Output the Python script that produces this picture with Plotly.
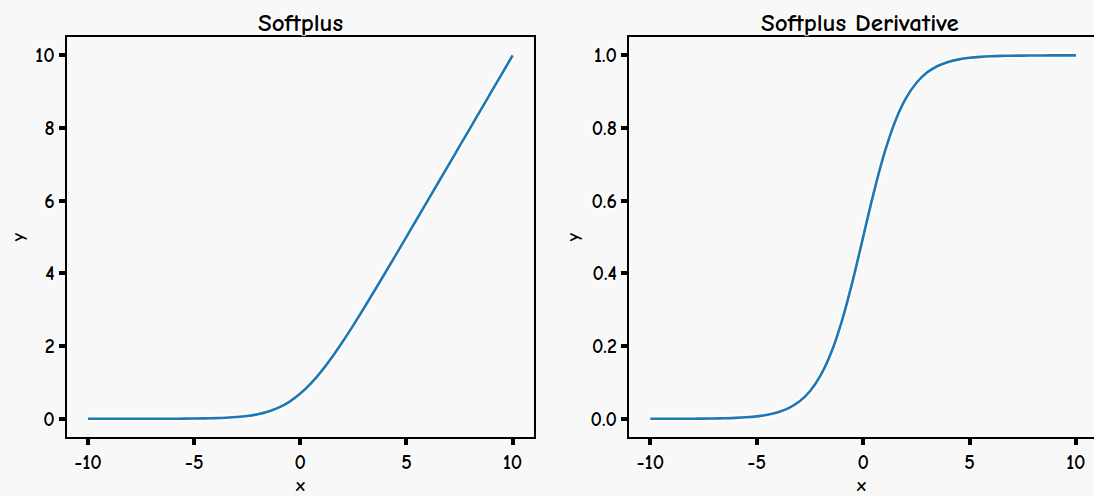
import plotly.graph_objects as go

x_vals = [-10, -9.5, -9, -8.5, -8, -7.5, -7, -6.5, -6, -5.5, -5, -4.5, -4, -3.5, -3, -2.5, -2, -1.5, -1, -0.5,
          0, 0.5, 1, 1.5, 2, 2.5, 3, 3.5, 4, 4.5, 5, 5.5, 6, 6.5, 7, 7.5, 8, 8.5, 9, 9.5, 10]
softplus_vals = [0.0000, 0.0001, 0.0001, 0.0002, 0.0003, 0.0006, 0.0009, 0.0015, 0.0025, 0.0041,
                 0.0067, 0.0110, 0.0180, 0.0298, 0.0486, 0.0789, 0.1269, 0.2014, 0.3133, 0.4741,
                 0.6931, 0.9741, 1.3133, 1.7014, 2.1269, 2.5789, 3.0486, 3.5298, 4.0181, 4.5110,
                 5.0067, 5.5041, 6.0025, 6.5015, 7.0009, 7.5006, 8.0003, 8.5002, 9.0001, 9.5001, 10.0000]
deriv_vals = [0.0000, 0.0001, 0.0001, 0.0002, 0.0003, 0.0006, 0.0009, 0.0015, 0.0025, 0.0041,
              0.0067, 0.0110, 0.0180, 0.0293, 0.0474, 0.0759, 0.1192, 0.1824, 0.2689, 0.3775,
              0.5000, 0.6225, 0.7311, 0.8176, 0.8808, 0.9241, 0.9526, 0.9707, 0.9820, 0.9890,
              0.9933, 0.9959, 0.9975, 0.9985, 0.9991, 0.9994, 0.9997, 0.9998, 0.9999, 0.9999, 1.0000]

titles = ["Softplus", "Softplus Derivative"]
x_ticks = [-10, -5, 0, 5, 10]
y_ticks_left = [0, 2, 4, 6, 8, 10]
y_ticks_right = [0.0, 0.2, 0.4, 0.6, 0.8, 1.0]

FONT = "Comic Sans MS, Comic Neue, Humor Sans, Lato, DejaVu Sans, sans-serif"
BG = "#f8f8f8"
LINE = "#1f77b4"

fig = go.Figure()
for ys, ax in [(softplus_vals, ""), (deriv_vals, "2")]:
    fig.add_trace(go.Scatter(x=x_vals, y=ys, mode="lines", line=dict(color="white", width=6, shape="spline"),
                             xaxis="x" + ax, yaxis="y" + ax, hoverinfo="skip", showlegend=False))
    fig.add_trace(go.Scatter(x=x_vals, y=ys, mode="lines", line=dict(color=LINE, width=2.6, shape="spline"),
                             xaxis="x" + ax, yaxis="y" + ax, showlegend=False))

def axis_common(mirror=True):
    return dict(showline=True, mirror=mirror, linecolor="black", linewidth=2.2,
                ticks="outside", ticklen=6, tickwidth=4, tickcolor="black",
                showgrid=False, zeroline=False,
                tickfont=dict(family=FONT, size=20, color="black", weight=600, shadow="auto"),
                title_font=dict(family=FONT, size=18, color="black", weight=600))

ydom = [0.119, 0.925]
fig.update_layout(
    width=1094, height=496,
    margin=dict(l=0, r=0, t=0, b=0),
    paper_bgcolor=BG, plot_bgcolor=BG,
    font=dict(family=FONT, color="black"),
    xaxis=dict(domain=[0.061, 0.488], range=[-11, 11], tickvals=x_ticks, ticktext=[str(v) for v in x_ticks],
               anchor="y", title=dict(text="x", standoff=6), **axis_common()),
    yaxis=dict(domain=ydom, range=[-0.5, 10.5], tickvals=y_ticks_left, ticktext=[str(v) for v in y_ticks_left],
               anchor="x", title=dict(text="y", standoff=6), **axis_common()),
    xaxis2=dict(domain=[0.575, 1.0], range=[-11, 10.85], tickvals=x_ticks, ticktext=[str(v) for v in x_ticks],
                anchor="y2", title=dict(text="x", standoff=6), **axis_common()),
    yaxis2=dict(domain=ydom, range=[-0.05, 1.05], tickvals=y_ticks_right,
                ticktext=["%.1f" % v for v in y_ticks_right],
                anchor="x2", title=dict(text="y", standoff=6), **axis_common(mirror=False)),
)

for xc, t in [(0.2745, titles[0]), (0.7865, titles[1])]:
    fig.add_annotation(x=xc, y=0.925, xref="paper", yref="paper", text=t, showarrow=False,
                       xanchor="center", yanchor="bottom", yshift=-2,
                       font=dict(family=FONT, size=25, color="black", weight=600, shadow="auto"))

fig.write_html("out.html")
